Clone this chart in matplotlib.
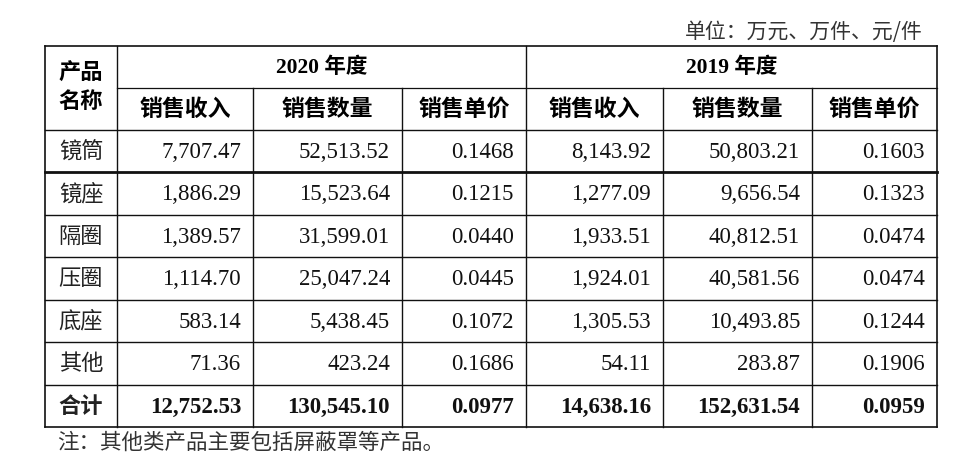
import matplotlib
matplotlib.use("Agg")
import matplotlib.pyplot as plt

plt.rcParams['font.family'] = ['Liberation Serif', 'Noto Sans CJK SC', 'DejaVu Sans']

# 数据
products = ["镜筒", "镜座", "隔圈", "压圈", "底座", "其他", "合计"]
years = ["2020 年度", "2019 年度"]
sub_heads = ["销售收入", "销售数量", "销售单价"]
rev_2020 = ["7,707.47", "1,886.29", "1,389.57", "1,114.70", "583.14", "71.36", "12,752.53"]
qty_2020 = ["52,513.52", "15,523.64", "31,599.01", "25,047.24", "5,438.45", "423.24", "130,545.10"]
price_2020 = ["0.1468", "0.1215", "0.0440", "0.0445", "0.1072", "0.1686", "0.0977"]
rev_2019 = ["8,143.92", "1,277.09", "1,933.51", "1,924.01", "1,305.53", "54.11", "14,638.16"]
qty_2019 = ["50,803.21", "9,656.54", "40,812.51", "40,581.56", "10,493.85", "283.87", "152,631.54"]
price_2019 = ["0.1603", "0.1323", "0.0474", "0.0474", "0.1244", "0.1906", "0.0959"]
unit_note = "单位：万元、万件、元/件"
foot_note = "注：其他类产品主要包括屏蔽罩等产品。"

columns = [rev_2020, qty_2020, price_2020, rev_2019, qty_2019, price_2019]

fig = plt.figure(figsize=(9.75, 4.69), dpi=100)
ax = fig.add_axes([0, 0, 1, 1])
ax.set_xlim(0, 975)
ax.set_ylim(469, 0)
ax.axis('off')

xs = [45, 117, 253, 402, 526, 663, 812, 937]
y_top, y_mid, y_head = 46, 88, 130
row_h = 42.5
ys = [y_head + i * row_h for i in range(len(products) + 1)]
y_bot = ys[-1]

lc = '#111111'
# 外框和横线
ax.plot([xs[0], xs[-1]], [y_top, y_top], color=lc, lw=1.2)
ax.plot([xs[1], xs[-1]], [y_mid, y_mid], color=lc, lw=0.9)
for i, y in enumerate(ys):
    lw = 2.0 if i == 1 else 1.0
    if i == len(ys) - 1:
        lw = 1.2
    ax.plot([xs[0], xs[-1]], [y, y], color=lc, lw=lw)
# 竖线
for i, x in enumerate(xs):
    if i in (0, 1, 4, 7):
        ax.plot([x, x], [y_top, y_bot], color=lc, lw=1.2 if i in (0, 7) else 1.0)
    else:
        ax.plot([x, x], [y_mid, y_bot], color=lc, lw=1.0)

fs = 15.5
cjk = ['Noto Sans CJK SC', 'DejaVu Sans']
# 表头
ax.text((xs[0] + xs[1]) / 2, 73, "产品", ha='center', va='center', fontsize=16,
        family=cjk, fontweight='bold')
ax.text((xs[0] + xs[1]) / 2, 102, "名称", ha='center', va='center', fontsize=16,
        family=cjk, fontweight='bold')
ax.text((xs[1] + xs[4]) / 2, 68, years[0], ha='center', va='center', fontsize=fs,
        fontweight='bold')
ax.text((xs[4] + xs[7]) / 2, 68, years[1], ha='center', va='center', fontsize=fs,
        fontweight='bold')
for j in range(6):
    ax.text((xs[j + 1] + xs[j + 2]) / 2, 109, sub_heads[j % 3], ha='center', va='center',
            fontsize=16.5, family=cjk, fontweight='bold')

# 数据行
for i, name in enumerate(products):
    yc = (ys[i] + ys[i + 1]) / 2
    bold = 'bold' if name == "合计" else 'normal'
    ax.text((xs[0] + xs[1]) / 2, yc, name, ha='center', va='center', fontsize=16,
            family=cjk, fontweight=bold, color='#222222')
    for j, col in enumerate(columns):
        ax.text(xs[j + 2] - 12, yc + 1, col[i], ha='right', va='center', fontsize=fs + 1,
                fontweight=bold, color='#111111')

ax.text(923, 32, unit_note, ha='right', va='center', fontsize=15, family=cjk,
        color='#333333')
ax.text(57, 443, foot_note, ha='left', va='center', fontsize=15.5, family=cjk,
        color='#333333')

fig.savefig("out.png", dpi=100)
